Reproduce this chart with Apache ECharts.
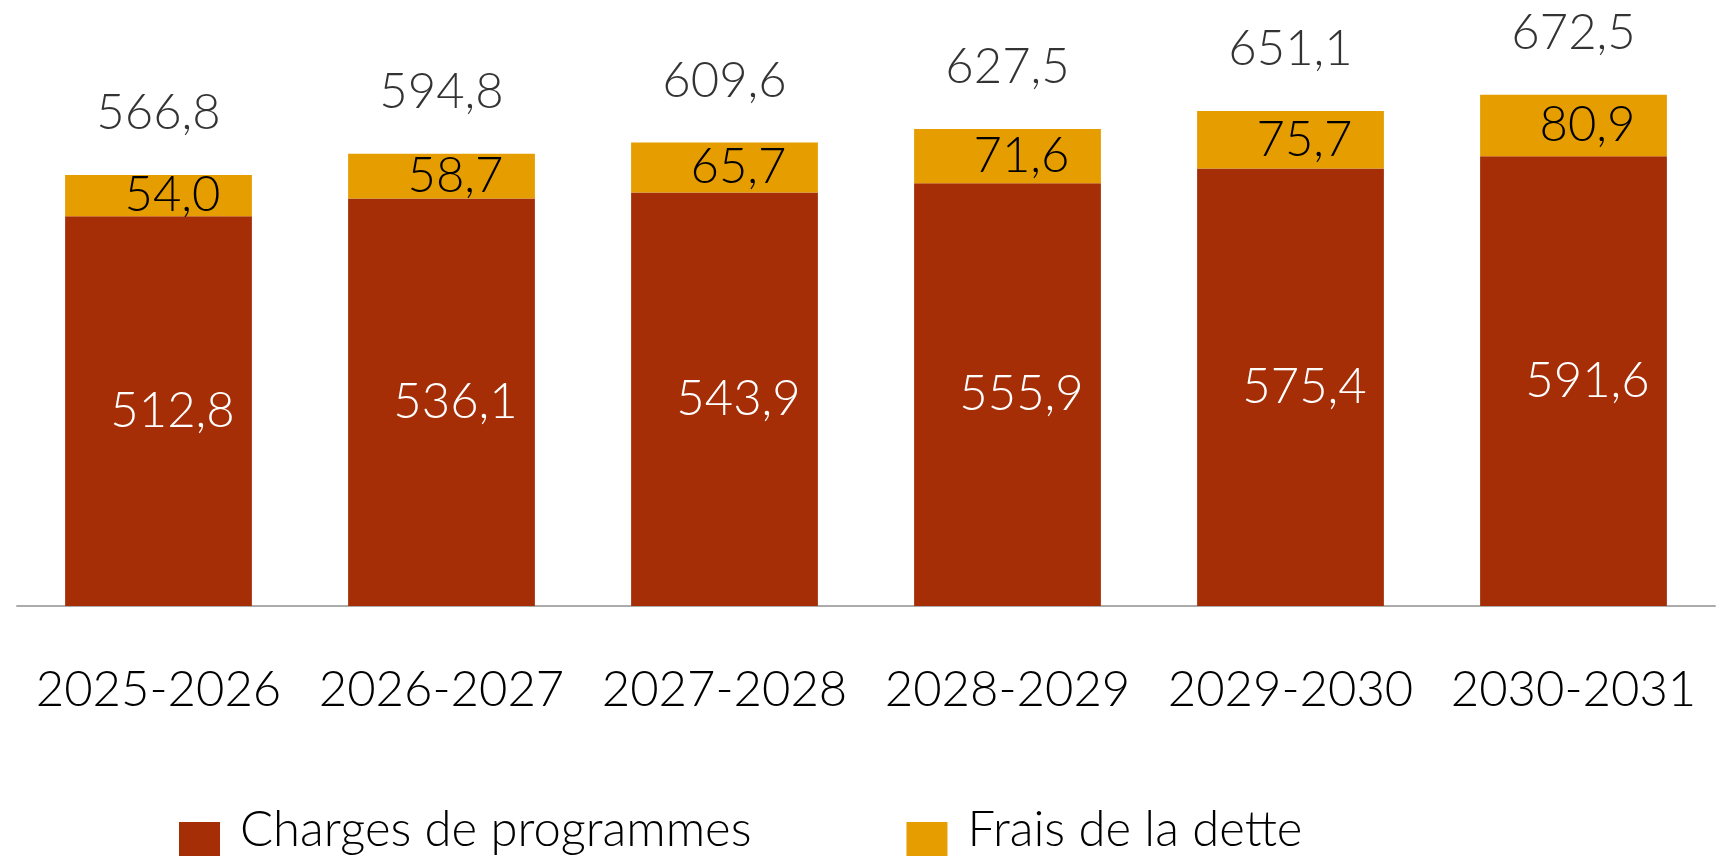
<!DOCTYPE html>
<html>
<head>
<meta charset="utf-8">
<script src="https://cdn.jsdelivr.net/npm/echarts@6/dist/echarts.min.js"></script>
<style>
  html, body { margin: 0; padding: 0; background: #fff; }
  #chart { width: 1724px; height: 856px; }
</style>
</head>
<body>
<div id="chart"></div>
<script>
// données (milliards de dollars)
const categories = ['2025-2026', '2026-2027', '2027-2028', '2028-2029', '2029-2030', '2030-2031'];
const charges = [512.8, 536.1, 543.9, 555.9, 575.4, 591.6];
const frais = [54.0, 58.7, 65.7, 71.6, 75.7, 80.9];
const totals = [566.8, 594.8, 609.6, 627.5, 651.1, 672.5];

const FONT = 'Lato';
const SIZE = 49;
const fmt = v => v.toFixed(1).replace('.', ',');

const chart = echarts.init(document.getElementById('chart'));
chart.setOption({
  animation: false,
  textStyle: { fontFamily: FONT },
  grid: { left: 17, right: 9, top: 13, bottom: 250 },
  legend: {
    data: ['Charges de programmes', 'Frais de la dette'],
    top: 801,
    left: 174,
    itemWidth: 41,
    itemHeight: 41,
    itemGap: 155,
    icon: 'rect',
    formatter: '{t|{name}}',
    textStyle: {
      fontFamily: FONT, fontWeight: 300, fontSize: SIZE, color: '#000',
      rich: { t: { fontFamily: FONT, fontWeight: 300, fontSize: SIZE, color: '#000', padding: [0, 0, 24, 15] } }
    }
  },
  xAxis: {
    type: 'category',
    data: categories,
    axisTick: { show: false },
    axisLine: { lineStyle: { color: '#ababab', width: 2 } },
    axisLabel: { interval: 0, fontFamily: FONT, fontWeight: 300, fontSize: SIZE, color: '#000', margin: 60 }
  },
  yAxis: {
    type: 'value',
    min: 0,
    max: 780,
    show: false,
    splitLine: { show: false }
  },
  series: [
    {
      name: 'Charges de programmes',
      type: 'bar',
      stack: 'total',
      barWidth: '66%',
      itemStyle: { color: '#a52e07' },
      label: {
        show: true,
        position: 'inside',
        offset: [14, 0],
        formatter: p => fmt(p.value),
        fontFamily: FONT, fontWeight: 300, fontSize: SIZE, color: '#fff'
      },
      data: charges
    },
    {
      name: 'Frais de la dette',
      type: 'bar',
      stack: 'total',
      itemStyle: { color: '#e69d00' },
      label: {
        show: true,
        position: 'inside',
        offset: [14, 0],
        formatter: p => fmt(p.value),
        fontFamily: FONT, fontWeight: 300, fontSize: SIZE, color: '#000'
      },
      data: frais
    },
    {
      name: 'Total',
      type: 'scatter',
      symbolSize: 0,
      silent: true,
      label: {
        show: true,
        position: 'top',
        distance: 37,
        formatter: p => fmt(p.value),
        fontFamily: FONT, fontWeight: 300, fontSize: SIZE, color: '#000'
      },
      data: totals
    }
  ]
});
</script>
</body>
</html>
